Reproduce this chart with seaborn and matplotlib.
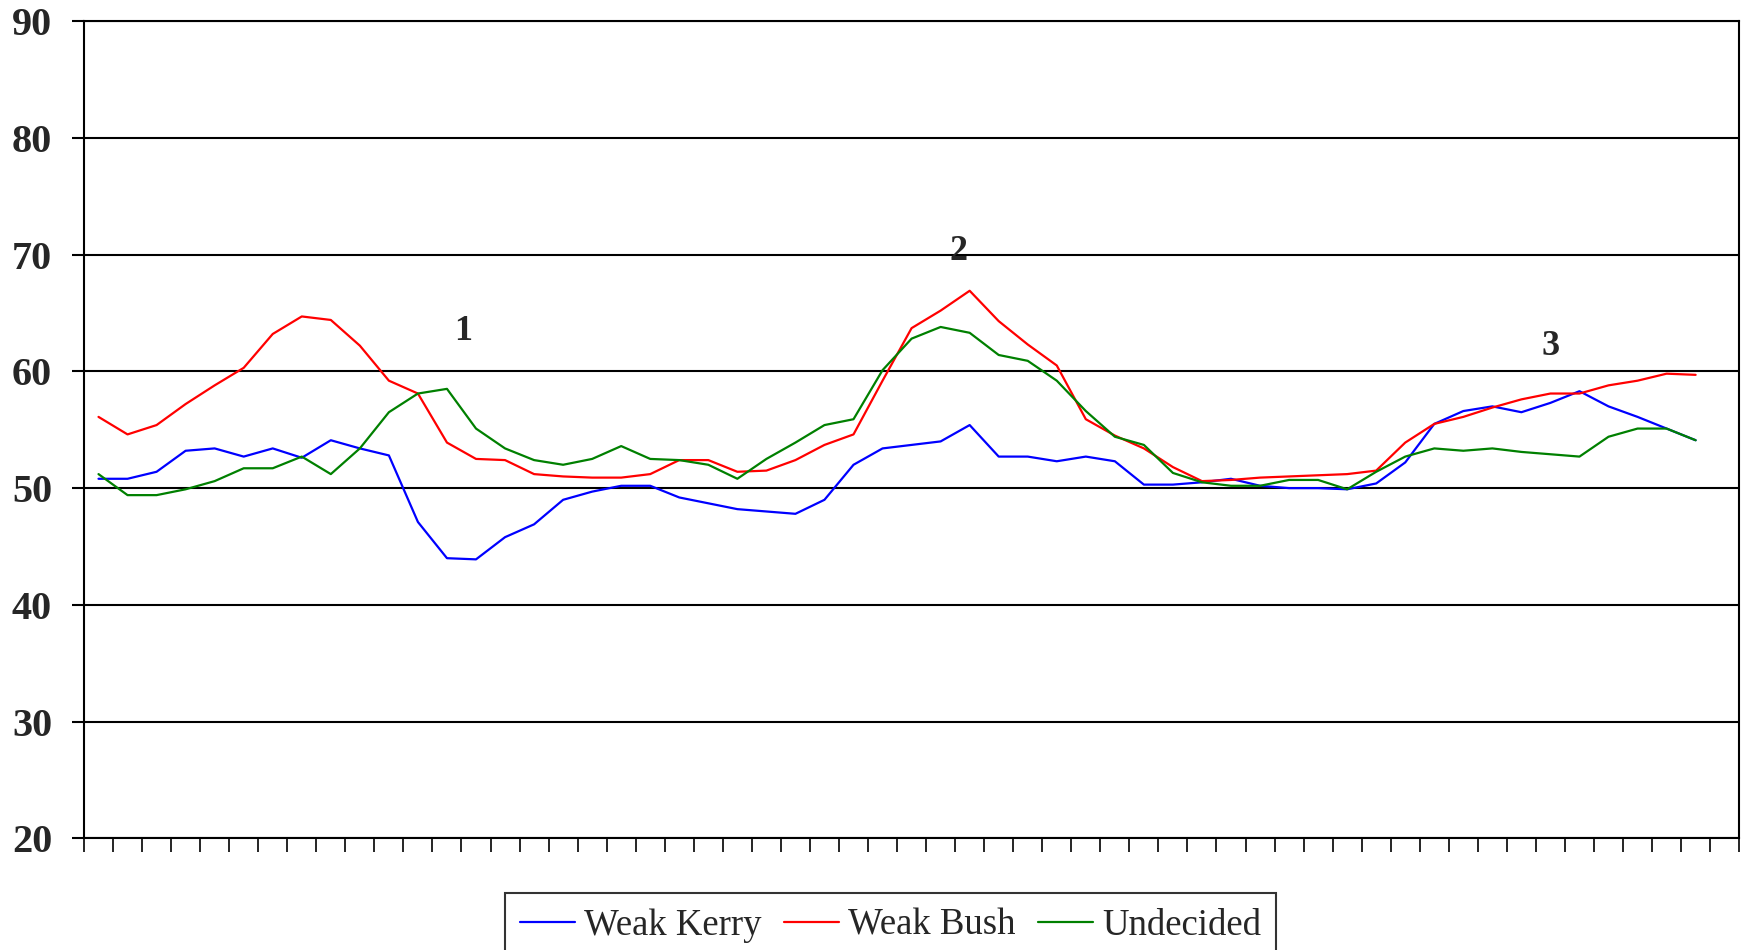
from matplotlib import pyplot as plt
import pandas as pd
import seaborn as sns
import numpy as np

# values, one per period (56 points, 57 slots on the axis)
weak_kerry = [50.8, 50.8, 51.4, 53.2, 53.4, 52.7, 53.4, 52.6, 54.1, 53.4,
              52.8, 47.1, 44.0, 43.9, 45.8, 46.9, 49.0, 49.7, 50.2, 50.2,
              49.2, 48.7, 48.2, 48.0, 47.8, 49.0, 52.0, 53.4, 53.7, 54.0,
              55.4, 52.7, 52.7, 52.3, 52.7, 52.3, 50.3, 50.3, 50.5, 50.8,
              50.2, 50.0, 50.0, 49.9, 50.4, 52.2, 55.5, 56.6, 57.0, 56.5,
              57.3, 58.3, 57.0, 56.1, 55.1, 54.1]
weak_bush = [56.1, 54.6, 55.4, 57.2, 58.8, 60.3, 63.2, 64.7, 64.4, 62.2,
             59.2, 58.1, 53.9, 52.5, 52.4, 51.2, 51.0, 50.9, 50.9, 51.2,
             52.4, 52.4, 51.4, 51.5, 52.4, 53.7, 54.6, 59.2, 63.7, 65.2,
             66.9, 64.3, 62.3, 60.5, 55.9, 54.5, 53.4, 51.8, 50.6, 50.7,
             50.9, 51.0, 51.1, 51.2, 51.5, 53.9, 55.5, 56.1, 56.9, 57.6,
             58.1, 58.1, 58.8, 59.2, 59.8, 59.7]
undecided = [51.2, 49.4, 49.4, 49.9, 50.6, 51.7, 51.7, 52.7, 51.2, 53.4,
             56.5, 58.1, 58.5, 55.1, 53.4, 52.4, 52.0, 52.5, 53.6, 52.5,
             52.4, 52.0, 50.8, 52.5, 53.9, 55.4, 55.9, 60.1, 62.8, 63.8,
             63.3, 61.4, 60.9, 59.2, 56.6, 54.4, 53.7, 51.3, 50.5, 50.2,
             50.2, 50.7, 50.7, 49.9, 51.4, 52.7, 53.4, 53.2, 53.4, 53.1,
             52.9, 52.7, 54.4, 55.1, 55.1, 54.1]
series_names = ["Weak Kerry", "Weak Bush", "Undecided"]
series_colors = ["#0000FF", "#FF0000", "#008000"]
n_slots = 57
markers = ["1", "2", "3"]
marker_pos = [(12.56, 63.4), (29.6, 70.3), (50.0, 62.1)]

df = pd.DataFrame({
    "period": np.tile(np.arange(len(weak_kerry)), 3),
    "value": weak_kerry + weak_bush + undecided,
    "series": np.repeat(series_names, len(weak_kerry)),
})

sns.set_style("white")
plt.rcParams["font.family"] = ["Liberation Serif", "DejaVu Serif"]

fig = plt.figure(figsize=(17.46, 9.5), dpi=100)
ax = fig.add_axes([0.0481, 0.1174, 0.948, 0.8605])

sns.lineplot(data=df, x="period", y="value", hue="series", hue_order=series_names,
             palette=series_colors, linewidth=1.6, ax=ax, legend=True)

ax.set_xlim(-0.5, n_slots - 0.5)
ax.set_ylim(20, 90)
ax.set_yticks(range(20, 91, 10))
ax.set_yticklabels([str(v) for v in range(20, 91, 10)], fontsize=29, fontweight="bold")
ax.set_xticks(np.arange(-0.5, n_slots, 1.0))
ax.set_xticklabels([])
ax.tick_params(axis="x", direction="out", length=10, width=1.2, color="black", bottom=True)
ax.tick_params(axis="y", direction="out", length=9, width=1.5, color="black", left=True, pad=14)
ax.set_xlabel("")
ax.set_ylabel("")
ax.yaxis.grid(True, color="black", linewidth=1.5)
ax.set_axisbelow(True)
for sp in ax.spines.values():
    sp.set_color("black")
    sp.set_linewidth(1.5)

for txt, (mx, my) in zip(markers, marker_pos):
    ax.text(mx, my, txt, fontsize=26, fontweight="bold", ha="center", va="center")

# legend sits below the axes, near the bottom edge
handles, labels = ax.get_legend_handles_labels()
ax.legend_.remove()
leg = fig.legend(handles, labels, loc="upper center", bbox_to_anchor=(0.51, 0.079),
                 ncol=3, fontsize=26.5, frameon=True, fancybox=False, handlelength=1.5,
                 handletextpad=0.25, columnspacing=0.6, borderpad=0.4)
leg.get_frame().set_edgecolor("black")
leg.get_frame().set_linewidth(1.5)

fig.savefig("out.png", dpi=100)
